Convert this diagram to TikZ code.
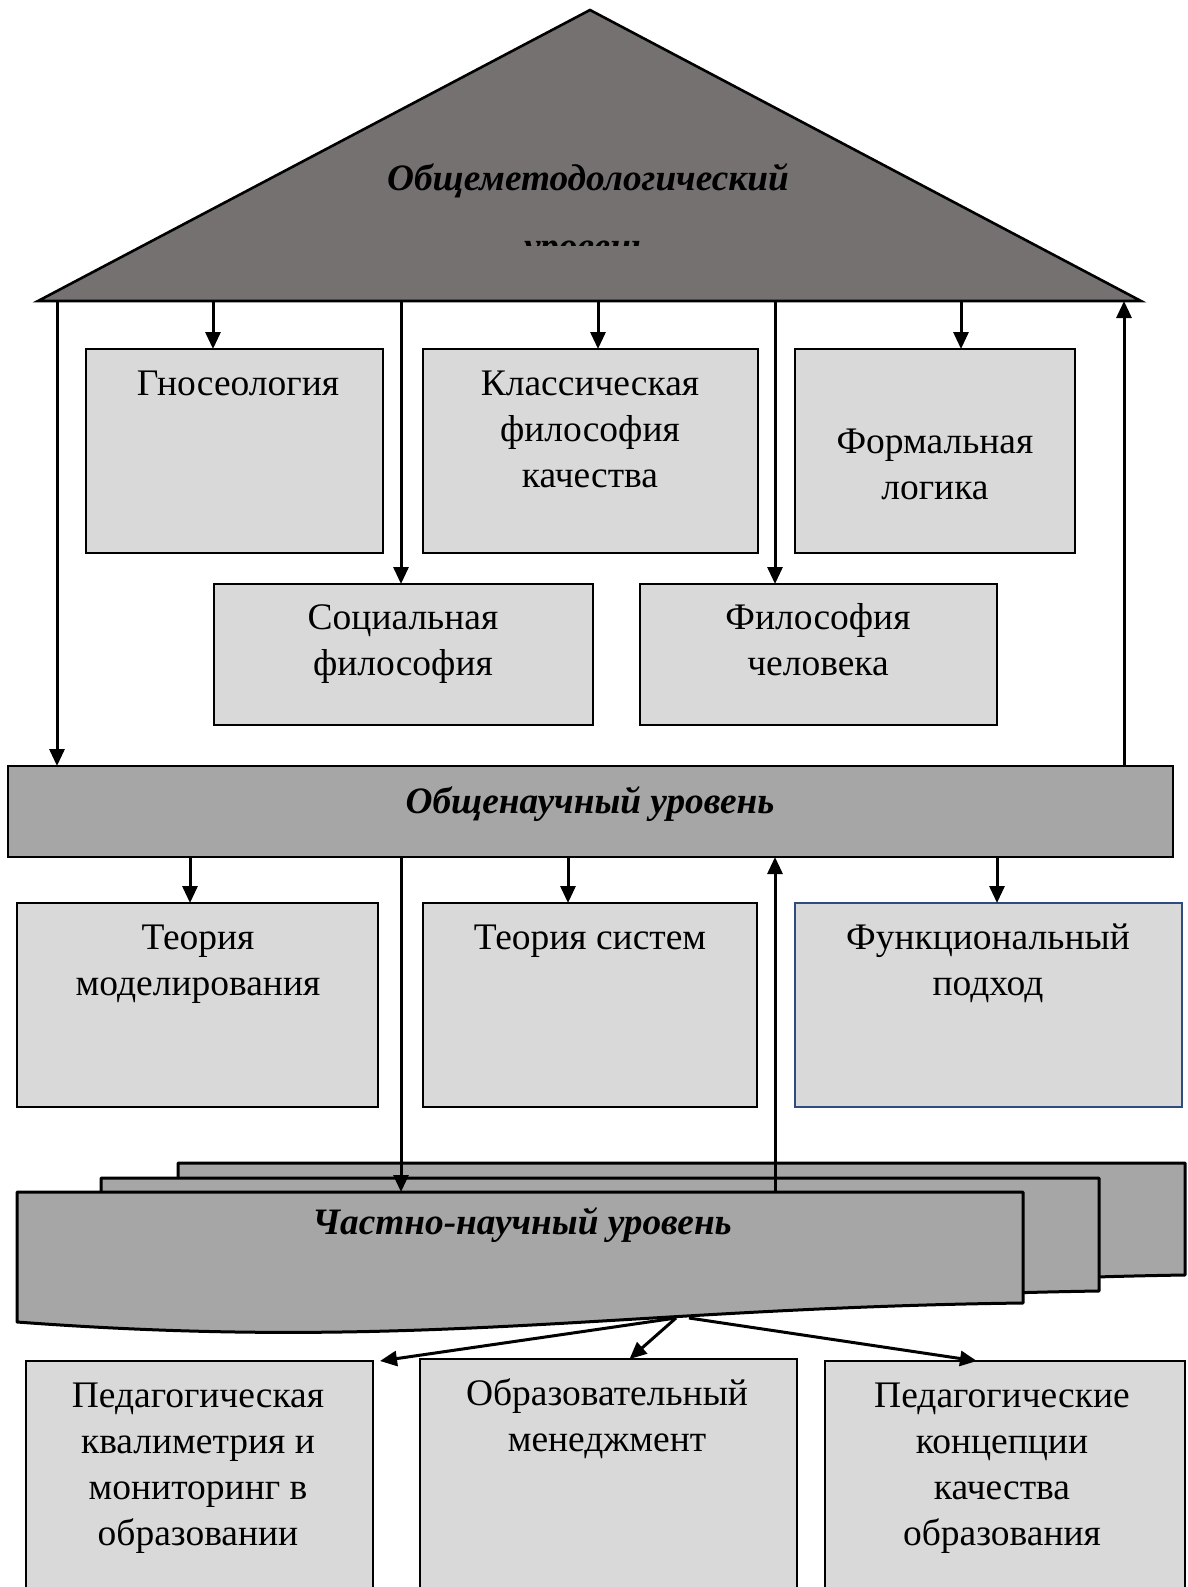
\documentclass[tikz,border=0pt]{standalone}
\usepackage{fontspec}
\setmainfont{Liberation Serif}
\usetikzlibrary{arrows.meta}
\definecolor{roofgray}{HTML}{757171}
\definecolor{bargray}{HTML}{A6A6A6}
\definecolor{boxgray}{HTML}{D9D9D9}
\definecolor{navyline}{HTML}{2F4C7E}
\begin{document}
\begin{tikzpicture}[x=1pt,y=-1pt,
  box/.style={draw=black, line width=2.6pt, fill=boxgray, inner sep=0pt, outer sep=0pt, anchor=north west},
  txt/.style={font=\fontsize{37.5}{46}\selectfont, align=center, inner sep=0pt, anchor=base},
  hdr/.style={font=\fontsize{37.3}{46}\selectfont\bfseries\itshape, inner sep=0pt, anchor=base},
  arr/.style={line width=3pt, -{Triangle[length=17pt,width=15pt]}},
  docpage/.style={draw=black, line width=3pt, fill=bargray, line join=round}]
\path[use as bounding box] (0,0) rectangle (1187,1587);
\clip (0,0) rectangle (1187,1587);

% roof
\filldraw[draw=black, line width=2.6pt, fill=roofgray, line join=miter] (590,10) -- (1141,301) -- (38,301) -- cycle;
\node[hdr] (roof1) at (588,190) {Общеметодологический};
\begin{scope}
  \clip (0,0) rectangle (1187,245);
  \node[hdr] (roof2) at (586,258) {уровень};
\end{scope}
\coordinate (t1) at (213,301);
\coordinate (t2) at (598,301);
\coordinate (t3) at (961,301);
\coordinate (t4) at (401,301);
\coordinate (t5) at (775,301);
\coordinate (tl) at (57,301);
\coordinate (tr) at (1124,301);

% philosophy boxes
\node[box, minimum width=297pt, minimum height=204pt] (gno) at (86,349) {};
\node[box, minimum width=335pt, minimum height=204pt] (klass) at (423,349) {};
\node[box, minimum width=280pt, minimum height=204pt] (form) at (795,349) {};
\node[box, minimum width=379pt, minimum height=141pt] (soc) at (214,584) {};
\node[box, minimum width=357pt, minimum height=141pt] (fil) at (640,584) {};
% (multi-line text: anchor=base is the baseline of the last line)
\node[txt] (gnot) at (238,395) {Гносеология};
\node[txt] (klasst) at (590,487) {Классическая\\философия\\качества};
\node[txt] (formt) at (935,499) {Формальная\\логика};
\node[txt] (soct) at (403,675) {Социальная\\философия};
\node[txt] (filt) at (818,675) {Философия\\человека};

% general scientific level
\node[box, fill=bargray, minimum width=1165pt, minimum height=91pt] (bar) at (8,766) {};
\node[hdr] (bart) at (590,813) {Общенаучный уровень};

\draw[arr] (t1) -- (t1 |- gno.north);
\draw[arr] (t2) -- (t2 |- klass.north);
\draw[arr] (t3) -- (t3 |- form.north);
\draw[arr] (t4) -- (t4 |- soc.north);
\draw[arr] (t5) -- (t5 |- fil.north);
\draw[arr] (tl) -- (tl |- bar.north);
\draw[arr] (tr |- bar.north) -- (tr);

% middle boxes
\node[box, minimum width=361pt, minimum height=204pt] (model) at (17,903) {};
\node[box, minimum width=334pt, minimum height=204pt] (sys) at (423,903) {};
\node[box, draw=navyline, line width=1.8pt, minimum width=387pt, minimum height=204pt] (func) at (795,903) {};
\node[txt] (modelt) at (198,995) {Теория\\моделирования};
\node[txt] (syst) at (590,949) {Теория систем};
\node[txt] (funct) at (988,995) {Функциональный\\подход};
\coordinate (m1) at (190,0);
\coordinate (m2) at (568,0);
\coordinate (m3) at (997,0);
\draw[arr] (m1 |- bar.south) -- (m1 |- model.north);
\draw[arr] (m2 |- bar.south) -- (m2 |- sys.north);
\draw[arr] (m3 |- bar.south) -- (m3 |- func.north);

% multi-document
\filldraw[docpage] (178,1163) -- (1185,1163) -- (1185,1275) .. controls (790,1281) and (590,1322) .. (178,1305) -- cycle;
\filldraw[docpage] (101,1178) -- (1099,1178) -- (1099,1291) .. controls (700,1297) and (500,1338) .. (101,1320) -- cycle;
\filldraw[docpage] (17,1192) -- (1023,1192) -- (1023,1303) .. controls (620,1308) and (420,1352) .. (17,1322) -- cycle;
\coordinate (doctop) at (0,1192);
\node[hdr] (doct) at (522,1234) {Частно-научный уровень};
\coordinate (d1) at (401,0);
\coordinate (d2) at (775,0);
\draw[arr] (d1 |- bar.south) -- (d1 |- doctop);
\draw[arr] (d2 |- doctop) -- (d2 |- bar.south);

% bottom boxes
\node[box, minimum width=347pt, minimum height=260pt] (ped) at (26,1361) {};
\node[box, minimum width=377pt, minimum height=260pt] (obr) at (420,1359) {};
\node[box, minimum width=360pt, minimum height=260pt] (conc) at (825,1361) {};
\node[txt] (pedt) at (198,1545) {Педагогическая\\квалиметрия и\\мониторинг в\\образовании};
\node[txt] (obrt) at (607,1451) {Образовательный\\менеджмент};
\node[txt] (conct) at (1002,1545) {Педагогические\\концепции\\качества\\образования};
\coordinate (src1) at (676,1318);
\coordinate (src2) at (689,1318);
\draw[arr] (src1) -- ([xshift=7pt]ped.north east);
\draw[arr] (src1) -- ([xshift=21pt]obr.north);
\draw[arr] (src2) -- ([xshift=-28pt]conc.north);
\end{tikzpicture}
\end{document}
